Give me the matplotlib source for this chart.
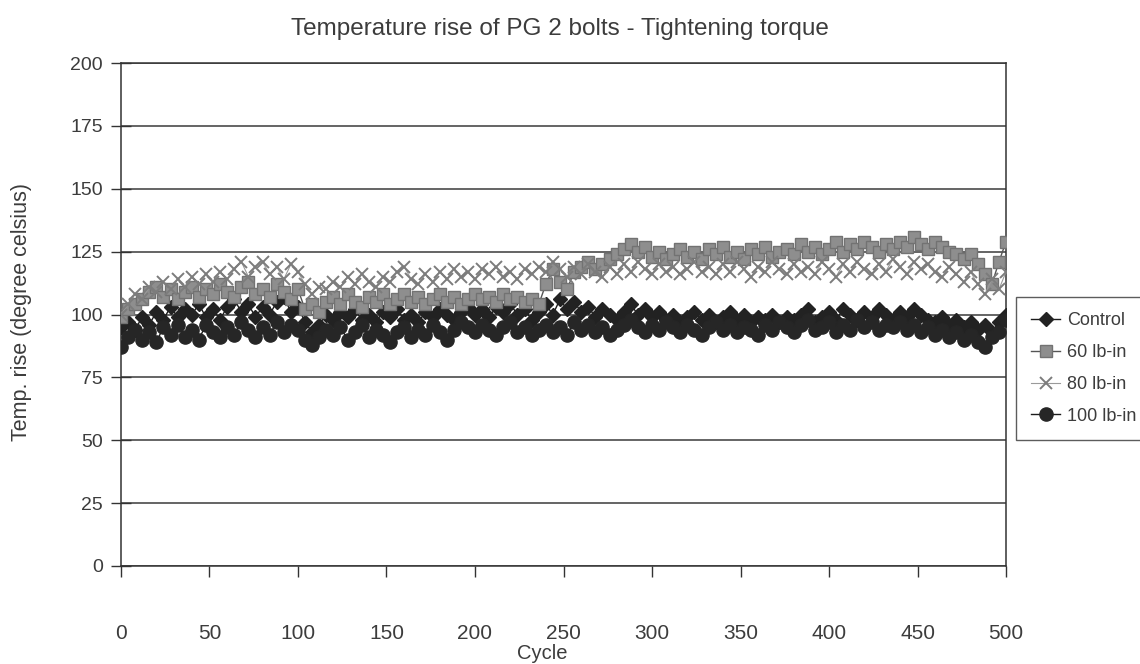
import matplotlib
matplotlib.use("Agg")
import matplotlib.pyplot as plt

plt.rcParams['font.family'] = ['Liberation Sans', 'DejaVu Sans']

# Readings taken every 4 cycles, 0..500
cycles = list(range(0, 501, 4))

control = [
    95, 97, 94, 99, 96, 101, 98, 103, 99, 102,
    100, 104, 99, 102, 98, 103, 106, 101, 104, 99,
    103, 100, 105, 107, 101, 103, 97, 93, 96, 100,
    98, 101, 99, 102, 98, 100, 97, 101, 99, 102,
    98, 100, 97, 101, 99, 102, 100, 98, 101, 103,
    100, 102, 99, 103, 101, 104, 100, 102, 98, 101,
    104, 100, 106, 102, 105, 101, 103, 99, 102, 100,
    98, 101, 104, 100, 102, 99, 101, 98, 100, 97,
    99, 101, 98, 100, 97, 99, 101, 98, 100, 97,
    99, 98, 100, 97, 99, 98, 100, 102, 97, 99,
    101, 98, 102, 100, 98, 101, 99, 102, 100, 98,
    101, 99, 102, 100, 98, 97, 99, 96, 98, 95,
    97, 94, 96, 93, 97, 100,
]

lb60 = [
    99, 102, 104, 106, 109, 111, 107, 110, 106, 109,
    111, 107, 110, 108, 112, 109, 107, 111, 113, 108,
    110, 107, 112, 109, 106, 110, 102, 104, 101, 105,
    107, 104, 108, 105, 103, 107, 105, 108, 104, 106,
    108, 105, 107, 104, 106, 108, 105, 107, 104, 106,
    108, 106, 107, 105, 108, 106, 107, 105, 106, 104,
    112, 118, 113, 110, 117, 119, 121, 118, 120, 122,
    124, 126, 128, 125, 127, 123, 125, 122, 124, 126,
    123, 125, 122, 126, 124, 127, 123, 125, 122, 126,
    124, 127, 123, 125, 126, 124, 128, 125, 127, 124,
    126, 129, 125, 128, 126, 129, 127, 125, 128, 126,
    129, 127, 131, 128, 126, 129, 127, 125, 124, 122,
    124, 120, 116, 112, 121, 129,
]

lb80 = [
    100, 104, 108, 106, 111, 109, 113, 110, 114, 111,
    115, 112, 116, 113, 117, 114, 118, 121, 115, 119,
    121, 116, 119, 114, 120, 117, 112, 108, 111, 110,
    113, 111, 115, 112, 116, 113, 111, 115, 113, 117,
    119, 114, 112, 116, 113, 117, 114, 118, 115, 117,
    114, 118, 116, 119, 115, 117, 114, 118, 116, 119,
    117, 121, 118, 115, 119, 116, 120, 117, 115, 119,
    116, 120, 117, 121, 118, 116, 120, 117, 119, 116,
    118, 121, 117, 119, 116, 120, 117, 121, 118, 115,
    119, 117, 121, 118, 116, 120, 117, 119, 116, 121,
    118, 115, 120, 117, 121, 118, 116, 120, 117, 122,
    119, 116, 121, 118, 120, 117, 115, 119, 116, 113,
    117, 112, 108, 114, 110, 117,
]

lb100 = [
    87, 91, 94, 90, 93, 89, 95, 92, 96, 91,
    94, 90, 96, 93, 91, 95, 92, 97, 94, 91,
    95, 92, 97, 93, 96, 94, 90, 88, 91, 94,
    92, 95, 90, 93, 96, 91, 94, 92, 89, 93,
    95, 91, 94, 92, 96, 93, 90, 94, 97, 95,
    93, 96, 94, 92, 95, 97, 93, 95, 92, 94,
    96, 93, 95, 92, 97, 94, 96, 93, 95, 92,
    94, 96, 98, 95, 93, 96, 94, 97, 95, 93,
    96, 94, 92, 95, 97, 94, 96, 93, 95, 94,
    92, 96, 94, 97, 95, 93, 96, 98, 94, 95,
    97, 93, 96, 94, 98, 95, 97, 94, 96, 95,
    97, 94, 96, 93, 95, 92, 94, 91, 93, 90,
    92, 89, 87, 91, 93, 98,
]

series_labels = ["Control", "60 lb-in", "80 lb-in", "100 lb-in"]
x_ticks = list(range(0, 501, 50))
y_ticks = list(range(0, 201, 25))

text_col = "#3c3c3c"

fig = plt.figure(figsize=(11.4, 6.64), dpi=100)
ax = fig.add_axes([0.1061, 0.1476, 0.7764, 0.7575])

ax.plot(cycles, control, color="#1c1c1c", lw=1.0, marker="D", ms=7,
        mfc="#222222", mec="#222222", label=series_labels[0], zorder=3)
ax.plot(cycles, lb60, color="#555555", lw=1.0, marker="s", ms=8,
        mfc="#8e8e8e", mec="#727272", label=series_labels[1], zorder=4)
ax.plot(cycles, lb80, color="#9a9a9a", lw=0.8, marker="x", ms=8.5,
        mew=1.4, mec="#7c7c7c", label=series_labels[2], zorder=5)
ax.plot(cycles, lb100, color="#1c1c1c", lw=1.0, marker="o", ms=9.5,
        mfc="#262626", mec="#262626", label=series_labels[3], zorder=6)

ax.set_xlim(0, 500)
ax.set_ylim(0, 200)
ax.set_xticks(x_ticks)
ax.set_yticks(y_ticks)
ax.yaxis.grid(True, color="#3a3a3a", lw=1.1)
ax.set_axisbelow(True)
for s in ax.spines.values():
    s.set_color("#333333")
    s.set_linewidth(1.1)

ax.tick_params(axis="y", direction="inout", length=14, width=1.0,
               colors="#333333", labelsize=14, pad=6, labelcolor=text_col)
ax.tick_params(axis="x", direction="out", length=8, width=1.0,
               colors="#333333", labelsize=15, pad=34, labelcolor=text_col)

fig.text(0.491, 0.956, "Temperature rise of PG 2 bolts - Tightening torque",
         ha="center", va="center", fontsize=17.5, color=text_col)
fig.text(0.476, 0.016, "Cycle", ha="center", va="center",
         fontsize=14.5, color=text_col)
fig.text(0.019, 0.53, "Temp. rise (degree celsius)", ha="center",
         va="center", rotation=90, fontsize=15.5, color=text_col)

leg = ax.legend(loc="upper left", bbox_to_anchor=(0.891, 0.5527),
                bbox_transform=fig.transFigure, borderaxespad=0,
                fontsize=13, frameon=True, fancybox=False,
                edgecolor="#333333", handlelength=1.6, handletextpad=0.4,
                labelspacing=0.82, borderpad=0.85)
leg.get_frame().set_linewidth(1.0)
for t in leg.get_texts():
    t.set_color(text_col)

fig.savefig("out.png", dpi=100)
